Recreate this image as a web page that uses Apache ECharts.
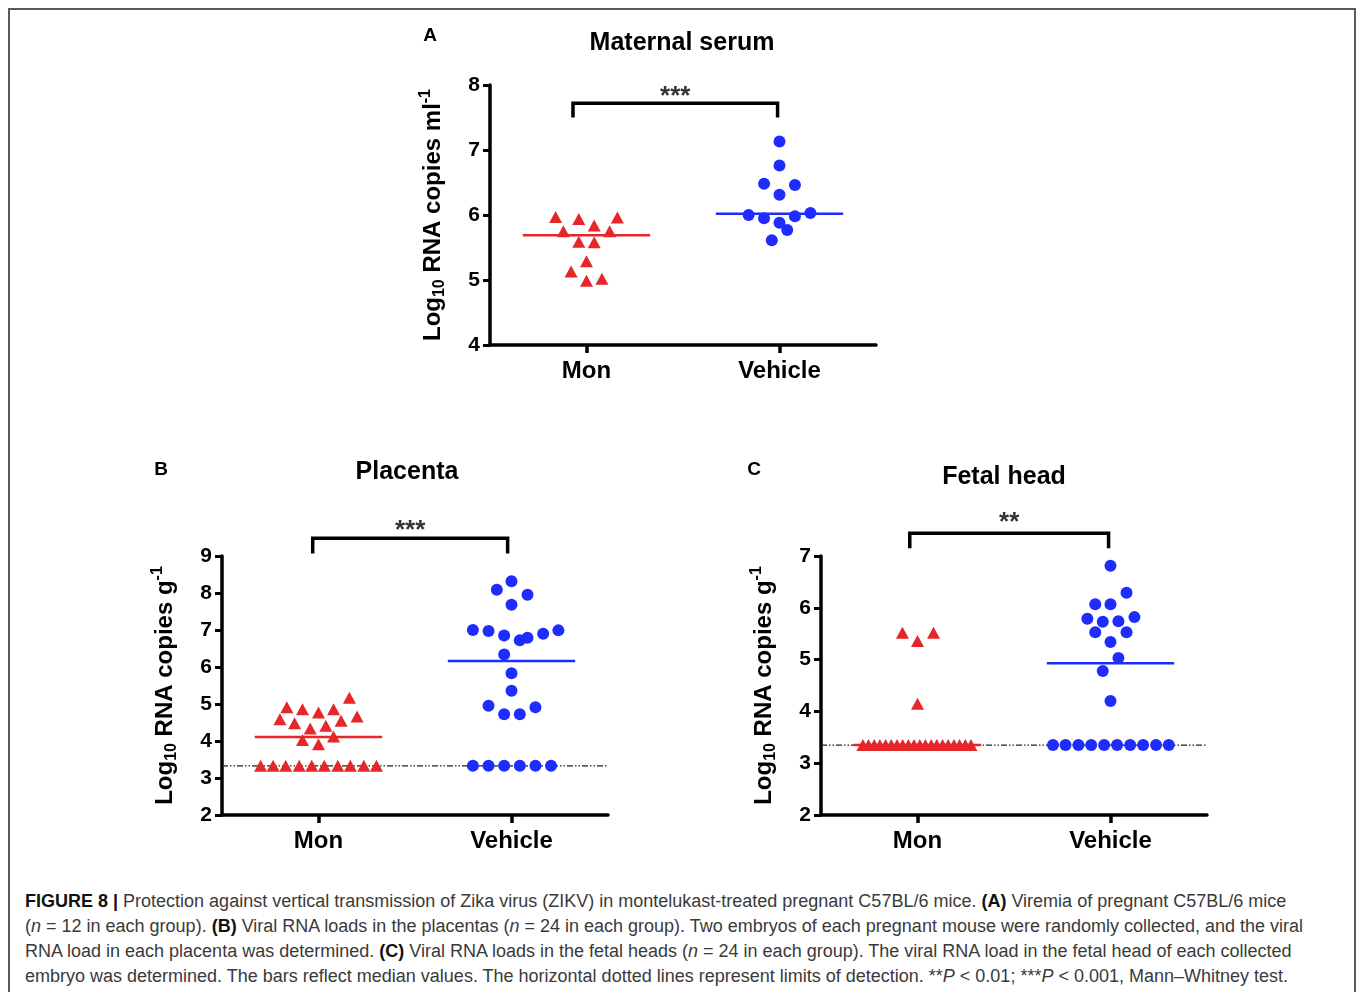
<!DOCTYPE html>
<html>
<head>
<meta charset="UTF-8"/>
<title>Figure 8</title>
<script src="https://cdn.jsdelivr.net/npm/echarts@6/dist/echarts.min.js"></script>
<style>
html, body { margin: 0; padding: 0; background: #fff; }
.frame { position: absolute; left: 8px; top: 8px; width: 1344px; height: 1000px; border: 2px solid #5a5a5a; border-bottom: none; }
#main { position: absolute; left: 0; top: 0; width: 1358px; height: 880px; }
.caption { position: absolute; left: 25px; top: 889px; font-family: 'Liberation Sans', Arial, sans-serif; font-size: 18px; line-height: 25px; color: #3a3a3a; white-space: nowrap; }
.caption b { color: #111; }
</style>
</head>
<body>
<div class="frame"></div>
<div id="main"></div>
<div class="caption">
<b>FIGURE 8 |</b> Protection against vertical transmission of Zika virus (ZIKV) in montelukast-treated pregnant C57BL/6 mice. <b>(A)</b> Viremia of pregnant C57BL/6 mice<br>
(<i>n</i> = 12 in each group). <b>(B)</b> Viral RNA loads in the placentas (<i>n</i> = 24 in each group). Two embryos of each pregnant mouse were randomly collected, and the viral<br>
RNA load in each placenta was determined. <b>(C)</b> Viral RNA loads in the fetal heads (<i>n</i> = 24 in each group). The viral RNA load in the fetal head of each collected<br>
embryo was determined. The bars reflect median values. The horizontal dotted lines represent limits of detection. **<i>P</i> &lt; 0.01; ***<i>P</i> &lt; 0.001, Mann–Whitney test.
</div>
<script>
var FONT = "'Liberation Sans', Arial, sans-serif";
var RED = '#e5262b';
var BLUE = '#1f2cff';

var groups = ['Mon', 'Vehicle'];

// A - maternal serum, n = 12 (y = log10 copies, dx = horizontal spread around the group)
var serumMonY  = [5.97, 5.94, 5.84, 5.96, 5.75, 5.75, 5.59, 5.58, 5.29, 5.13, 4.99, 5.02];
var serumMonDx = [-0.16, -0.04, 0.04, 0.16, -0.12, 0.12, -0.04, 0.04, 0, -0.08, 0, 0.08];
var serumVehY  = [7.13, 6.76, 6.48, 6.46, 6.31, 6.00, 5.95, 5.98, 6.03, 5.88, 5.77, 5.61];
var serumVehDx = [0, 0, -0.08, 0.08, 0, -0.16, -0.08, 0.08, 0.16, 0, 0.04, -0.04];
var serumMedians = [5.69, 6.02];

// B - placenta, n = 24
var placMonY  = [5.17, 4.91, 4.86, 4.77, 4.86, 4.59, 4.66, 4.48, 4.55, 4.41, 4.34, 4.12, 4.03, 3.91,
                 3.33, 3.33, 3.33, 3.33, 3.33, 3.33, 3.33, 3.33, 3.33, 3.33];
var placMonDx = [0.16, -0.164, -0.083, 0, 0.078, -0.2, 0.2, -0.124, 0.117, 0.038, -0.043, 0.078, -0.083, 0,
                 -0.3, -0.235, -0.17, -0.1, -0.035, 0.03, 0.1, 0.165, 0.235, 0.3];
var placVehY  = [8.32, 8.09, 7.95, 7.68, 7.00, 6.97, 6.99, 6.90, 6.85, 6.79, 6.72, 6.34, 5.83, 5.36, 4.95, 4.91, 4.72, 4.72,
                 3.33, 3.33, 3.33, 3.33, 3.33, 3.33];
var placVehDx = [0, -0.076, 0.083, 0, -0.2, -0.119, 0.243, 0.164, -0.038, 0.083, 0.043, -0.038, 0, 0, -0.119, 0.124, -0.038, 0.043,
                 -0.2, -0.119, -0.038, 0.043, 0.124, 0.205];
var placMedians = [4.11, 6.16];
var placLod = 3.33;

// C - fetal head, n = 24
var headMonY  = [5.52, 5.52, 5.36, 4.15,
                 3.35, 3.35, 3.35, 3.35, 3.35, 3.35, 3.35, 3.35, 3.35, 3.35,
                 3.35, 3.35, 3.35, 3.35, 3.35, 3.35, 3.35, 3.35, 3.35, 3.35];
var headMonDx = [-0.078, 0.083, 0, 0,
                 -0.283, -0.254, -0.224, -0.195, -0.165, -0.136, -0.106, -0.077, -0.047, -0.018,
                 0.012, 0.041, 0.071, 0.1, 0.13, 0.159, 0.189, 0.218, 0.248, 0.277];
var headVehY  = [6.81, 6.29, 6.07, 6.07, 5.79, 5.82, 5.73, 5.74, 5.53, 5.53, 5.34, 5.03, 4.78, 4.20,
                 3.35, 3.35, 3.35, 3.35, 3.35, 3.35, 3.35, 3.35, 3.35, 3.35];
var headVehDx = [0, 0.083, -0.079, 0, -0.12, 0.124, -0.04, 0.041, -0.079, 0.083, 0, 0.041, -0.04, 0,
                 -0.298, -0.233, -0.166, -0.1, -0.033, 0.034, 0.102, 0.169, 0.236, 0.302];
var headMedians = [3.35, 4.93];
var headLod = 3.35;

// significance brackets: [left x, right x], [leg bottom, bar], stars label y
var bracketX = [[0.93, 1.99], [0.97, 1.98], [0.96, 1.99]];
var bracketY = [[7.50, 7.72], [9.07, 9.48], [7.15, 7.44]];
var starsY = [7.91, 9.84, 7.75];
var stars = ['***', '***', '**'];

var panels = [
    {grid: {left: 490, top: 85, width: 386, height: 260}, min: 4, max: 8, unit: 'ml',
     mon: [serumMonDx, serumMonY], veh: [serumVehDx, serumVehY], med: serumMedians, lod: null},
    {grid: {left: 222, top: 556, width: 386, height: 259}, min: 2, max: 9, unit: 'g',
     mon: [placMonDx, placMonY], veh: [placVehDx, placVehY], med: placMedians, lod: placLod},
    {grid: {left: 821, top: 556, width: 386, height: 259}, min: 2, max: 7, unit: 'g',
     mon: [headMonDx, headMonY], veh: [headVehDx, headVehY], med: headMedians, lod: headLod}
];

function pts(dx, ys, center) {
    return ys.map(function (v, i) { return [center + dx[i], v]; });
}

var grids = [], xAxes = [], yAxes = [], series = [];
panels.forEach(function (p, i) {
    grids.push(p.grid);
    xAxes.push({
        type: 'value', gridIndex: i, min: 0.5, max: 2.5,
        axisLine: {show: true, onZero: false, lineStyle: {color: '#000', width: 3.5}},
        axisTick: {show: true, customValues: [1, 2], length: 8, lineStyle: {color: '#000', width: 3.5}},
        axisLabel: {customValues: [1, 2], formatter: function (v) { return groups[Math.round(v) - 1]; },
                    color: '#000', fontSize: 24, fontWeight: 'bold', fontFamily: FONT, margin: 14},
        splitLine: {show: false}
    });
    yAxes.push({
        type: 'value', gridIndex: i, min: p.min, max: p.max, interval: 1,
        axisLine: {show: true, lineStyle: {color: '#000', width: 3.5}},
        axisTick: {show: true, length: 7, lineStyle: {color: '#000', width: 3}},
        axisLabel: {color: '#000', fontSize: 21, fontWeight: 'bold', fontFamily: FONT, margin: 10},
        splitLine: {show: false},
        name: 'Log{sub|10} RNA copies ' + p.unit + '{sup|-1}',
        nameLocation: 'middle', nameGap: 42,
        nameTextStyle: {
            color: '#000', fontSize: 24, fontWeight: 'bold', fontFamily: FONT, lineHeight: 30,
            rich: {
                sub: {fontSize: 16, fontWeight: 'bold', fontFamily: FONT, color: '#000', lineHeight: 16, verticalAlign: 'bottom'},
                sup: {fontSize: 16, fontWeight: 'bold', fontFamily: FONT, color: '#000', lineHeight: 16, verticalAlign: 'top'}
            }
        }
    });
    if (p.lod !== null) {
        series.push({
            type: 'line', xAxisIndex: i, yAxisIndex: i, symbol: 'none', silent: true, z: 1,
            data: [[0.5, p.lod], [2.5, p.lod]],
            lineStyle: {color: '#222', width: 1.2, type: [6, 2, 1.5, 2, 1.5, 2]}
        });
    }
    series.push({
        type: 'scatter', xAxisIndex: i, yAxisIndex: i, symbol: 'triangle', symbolSize: [13, 12],
        itemStyle: {color: RED, opacity: 1}, data: pts(p.mon[0], p.mon[1], 1), z: 3
    });
    series.push({
        type: 'scatter', xAxisIndex: i, yAxisIndex: i, symbol: 'circle', symbolSize: 12,
        itemStyle: {color: BLUE, opacity: 1}, data: pts(p.veh[0], p.veh[1], 2), z: 3
    });
    [RED, BLUE].forEach(function (c, g) {
        series.push({
            type: 'line', xAxisIndex: i, yAxisIndex: i, symbol: 'none', silent: true, z: 4,
            data: [[g + 1 - 0.33, p.med[g]], [g + 1 + 0.33, p.med[g]]],
            lineStyle: {color: c, width: 2.5}
        });
    });
    var bx = bracketX[i], by = bracketY[i];
    series.push({
        type: 'line', xAxisIndex: i, yAxisIndex: i, symbol: 'none', silent: true, clip: false, z: 4,
        data: [[bx[0], by[0]], [bx[0], by[1]], [bx[1], by[1]], [bx[1], by[0]]],
        lineStyle: {color: '#000', width: 3.5, join: 'miter'}
    });
    series.push({
        type: 'scatter', xAxisIndex: i, yAxisIndex: i, symbolSize: 0, silent: true, clip: false, z: 4,
        data: [[(bx[0] + bx[1]) / 2, starsY[i]]],
        label: {show: true, position: 'inside', formatter: stars[i], color: '#000',
                fontSize: 26, fontWeight: 'bold', fontFamily: FONT, offset: [0, 6]}
    });
});

var titleStyle = {fill: '#000', fontSize: 25, fontWeight: 'bold', fontFamily: FONT, textAlign: 'center', textVerticalAlign: 'middle'};
var letterStyle = {fill: '#000', fontSize: 19, fontWeight: 'bold', fontFamily: FONT, textAlign: 'center', textVerticalAlign: 'middle'};
function txt(x, y, s, st) {
    return {type: 'text', x: x, y: y, silent: true, style: Object.assign({text: s}, st)};
}

var chart = echarts.init(document.getElementById('main'));
chart.setOption({
    animation: false,
    grid: grids,
    xAxis: xAxes,
    yAxis: yAxes,
    series: series,
    graphic: [
        txt(682, 43, 'Maternal serum', titleStyle),
        txt(407, 472, 'Placenta', titleStyle),
        txt(1004, 477, 'Fetal head', titleStyle),
        txt(430, 36, 'A', letterStyle),
        txt(161, 470, 'B', letterStyle),
        txt(754, 470, 'C', letterStyle)
    ]
});
</script>
</body>
</html>
